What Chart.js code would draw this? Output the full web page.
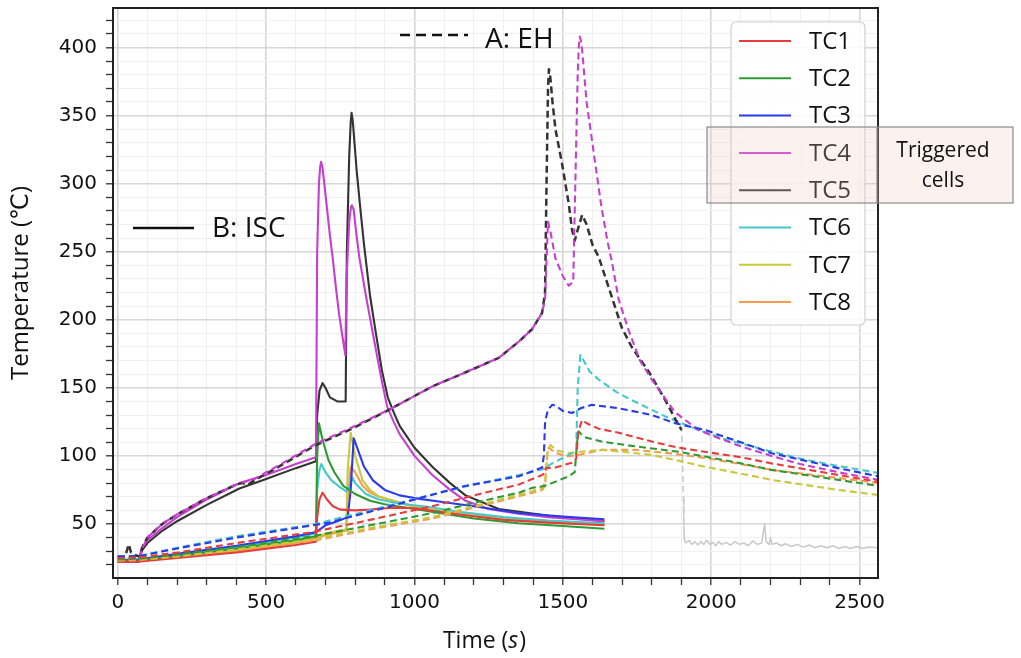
<!DOCTYPE html>
<html>
<head>
<meta charset="utf-8">
<script src="https://cdn.jsdelivr.net/npm/chart.js@4.4.1/dist/chart.umd.min.js"></script>
<style>
  html, body { margin: 0; padding: 0; background: #fff; }
  canvas { display: block; }
</style>
</head>
<body>
<canvas id="tempChart" width="1021" height="658"></canvas>
<script>
// ---- data (time in s, temperature in degC) ----
const TC_NAMES = ['TC1', 'TC2', 'TC3', 'TC4', 'TC5', 'TC6', 'TC7', 'TC8'];
const TC_COLORS = ['#e63c3c', '#2f9a33', '#2b3bea', '#c63fcf', '#333333', '#45c8cc', '#c8c83c', '#f49b4c'];

const X_MAJOR = [0, 500, 1000, 1500, 2000, 2500];
const Y_MAJOR = [50, 100, 150, 200, 250, 300, 350, 400];

// B: ISC (solid lines)
const isc_TC1 = [[0,22],[75,22.5],[200,25],[400,29],[600,34.5],[668,37],[672,55],[680,68],[690,73],[705,68],[725,63],[750,60.5],[800,60],[850,60.5],[900,61.5],[950,62],[1000,61.5],[1050,60],[1150,57],[1300,53],[1450,51],[1640,49]];
const isc_TC2 = [[0,23],[75,23.5],[200,26.5],[400,32],[600,38],[668,41],[672,100],[678,124],[690,112],[710,97],[730,88],[760,78],[800,72],[850,67],[900,64.5],[1000,61],[1100,57.5],[1200,54],[1350,50.5],[1500,48.5],[1640,46.5]];
const isc_TC3 = [[0,23.5],[75,24],[200,28],[400,34],[600,41],[668,44],[700,49],[740,52],[775,55],[785,75],[795,113],[810,104],[830,92],[860,82],[900,75],[950,71],[1000,69],[1100,66],[1200,63],[1350,58],[1500,55.5],[1640,53.5]];
const isc_TC4 = [[0,22],[70,22],[80,32],[100,38],[150,47],[200,55],[300,68],[410,80],[500,86],[600,94],[668,99],[672,250],[678,300],[682,312],[685,316],[690,312],[695,302],[705,282],[715,262],[724,246],[735,224],[746,204],[757,188],[767,174],[771,230],[780,272],[786,283],[789,284],[795,281],[803,265],[814,246],[836,218],[853,198],[870,178],[890,155],[908,136],[930,125],[950,116],[1000,100],[1060,86],[1120,75],[1172,67],[1250,61],[1350,57.5],[1450,55],[1640,52]];
const isc_TC5 = [[0,22],[70,22],[80,30],[100,36],[150,45],[200,52],[300,64],[410,76],[500,83],[600,91],[668,96],[672,130],[680,148],[690,153.5],[700,150],[715,143],[740,140],[768,140],[772,250],[780,320],[785,345],[788,352],[792,346],[796,335],[805,310],[816,285],[830,255],[850,218],[870,190],[890,163],[910,143],[930,132],[950,122],[1000,106],[1060,92],[1120,80],[1172,71],[1284,61],[1385,58],[1453,56],[1640,52]];
const isc_TC6 = [[0,23],[75,23.5],[200,27],[400,33],[600,40],[668,43],[672,75],[680,90],[686,94],[700,88],[720,82],[746,77.5],[770,74],[785,79],[791,84],[800,80],[836,72],[880,68],[948,65],[1049,62.5],[1150,59],[1300,55],[1450,52.5],[1640,50.5]];
const isc_TC7 = [[0,23],[75,23.5],[200,26],[400,31],[600,37],[668,40],[700,43],[770,46],[775,90],[785,117],[800,100],[825,82],[850,75],[881,70],[993,63],[1100,59],[1250,55],[1450,52],[1640,50]];
const isc_TC8 = [[0,22.5],[75,23],[200,25.5],[400,30],[600,36],[668,39],[700,42],[770,45],[775,70],[785,92],[800,88],[825,78],[850,73],[881,70],[993,63],[1100,59],[1250,55],[1450,51.5],[1640,49.5]];

// A: EH (dashed lines)
const eh_TC1 = [[0,25],[75,25.5],[200,29],[400,36],[657,44],[850,53],[1060,63],[1200,71],[1352,79],[1430,86],[1438,87],[1442,91],[1475,91.5],[1531,95],[1545,98],[1552,118],[1565,126.5],[1580,124],[1620,120],[1688,117],[1800,110.5],[1890,106],[1979,103],[2100,99],[2203,94.5],[2428,86],[2562,81]];
const eh_TC2 = [[0,24],[75,24.5],[200,27.5],[400,33],[657,41],[850,49],[1060,58],[1200,65.5],[1352,73],[1396,76.5],[1440,78],[1520,85],[1540,88],[1548,110],[1553,118],[1570,114],[1631,110.5],[1744,107],[1890,103],[1979,99.5],[2100,94.5],[2203,89.7],[2428,82.4],[2562,78]];
const eh_TC3 = [[0,26],[75,26.5],[200,32],[400,40],[657,49],[713,51],[850,59],[993,67.5],[1161,77.5],[1352,85],[1430,91.5],[1436,100],[1440,125],[1450,134],[1464,137.5],[1475,137],[1500,133],[1531,131.5],[1560,135],[1598,137.5],[1688,135],[1800,130],[1878,124],[1979,119],[2100,110],[2203,102],[2428,91],[2562,85]];
const eh_TC4 = [[0,25],[75,25],[85,33],[100,40],[150,50],[200,57],[300,69],[400,79],[460,83],[550,94],[668,109],[790,121],[915,134],[1060,151],[1200,164],[1284,172],[1352,184],[1396,193],[1430,205],[1440,215],[1446,250],[1450,272],[1458,265],[1475,245],[1500,232],[1520,225],[1535,228],[1542,300],[1550,380],[1554,402],[1557,408],[1561,405],[1565,398],[1580,360],[1609,315],[1630,283],[1650,258],[1665,243],[1688,215],[1722,192],[1760,170],[1800,156],[1878,132],[1957,119],[2013,114],[2100,107],[2203,100],[2300,94],[2428,88],[2562,82.5]];
const eh_TC5 = [[0,26],[25,26],[37,35],[45,29],[60,27],[75,26],[85,34],[100,40],[150,50],[200,57],[300,69],[400,79],[420,80],[440,79],[460,82],[550,93],[668,108],[790,120],[915,134],[1060,151],[1200,164],[1284,172],[1352,184],[1396,193],[1430,205],[1440,220],[1445,300],[1450,370],[1453,384],[1457,380],[1465,360],[1475,340],[1497,315],[1520,285],[1531,266],[1540,258],[1550,266],[1565,277],[1580,270],[1600,255],[1621,246],[1654,224],[1699,194],[1732,180],[1789,162],[1845,141],[1884,125],[1900,119]];
const eh_TC6 = [[0,26],[75,26.5],[200,32.5],[400,41],[657,49.5],[850,60],[1049,71],[1200,79],[1352,86],[1430,90],[1464,94.5],[1531,102],[1545,105],[1550,150],[1559,174],[1570,170],[1590,162],[1621,156],[1680,147],[1732,141],[1845,129],[1957,119],[2050,112],[2181,104.5],[2300,98],[2405,93.5],[2562,87.5]];
const eh_TC7 = [[0,23.5],[75,24],[200,26.5],[400,31.5],[657,38.5],[850,47],[1060,55],[1200,63],[1396,74],[1430,77],[1440,80],[1448,102],[1458,108],[1480,104],[1520,102],[1560,103],[1631,104.4],[1700,103],[1800,100.7],[1878,97],[1979,92],[2100,87],[2203,82.4],[2428,75],[2562,71.3]];
const eh_TC8 = [[0,23],[75,23.5],[200,26],[400,31],[657,37.5],[850,46],[1060,54],[1200,62],[1396,72.8],[1430,75],[1440,78],[1447,100],[1453,106],[1470,103],[1509,99.5],[1560,101],[1631,104.4],[1744,104.4],[1856,102],[1979,98.5],[2100,94],[2203,89.7],[2428,83.8],[2562,80]];

// TC5 (EH) reading after the thermocouple dropped off
const eh_TC5_tail = [[1900,122],[1903,100],[1906,70],[1908,45],[1910,38],[1915,36],[1925,38],[1935,35],[1945,37],[1955,34.5],[1965,37],[1975,35],[1985,38],[1995,35],[2005,36.5],[2015,34],[2025,37],[2035,35],[2050,36.5],[2065,34.5],[2080,37],[2095,35],[2110,36],[2125,34],[2140,37.5],[2155,35],[2170,36],[2180,50],[2185,37],[2195,35],[2200,40],[2205,35],[2220,36],[2235,34],[2250,35.5],[2270,33.5],[2290,35],[2310,33],[2330,34.5],[2350,32.5],[2370,34],[2390,32.5],[2410,34],[2430,32],[2450,33.5],[2470,32],[2490,33.5],[2510,32],[2530,33],[2562,32.5]];

const iscSeries = [isc_TC1, isc_TC2, isc_TC3, isc_TC4, isc_TC5, isc_TC6, isc_TC7, isc_TC8];
const ehSeries = [eh_TC1, eh_TC2, eh_TC3, eh_TC4, eh_TC5, eh_TC6, eh_TC7, eh_TC8];

const toXY = arr => arr.map(p => ({ x: p[0], y: p[1] }));

const datasets = [];
ehSeries.forEach((s, i) => {
  datasets.push({
    label: TC_NAMES[i] + ' EH',
    data: toXY(s),
    borderColor: TC_COLORS[i],
    borderWidth: i === 4 ? 2.5 : 2.1,
    borderDash: [7, 4],
  });
});
datasets.push({
  label: 'TC5 EH tail',
  data: toXY(eh_TC5_tail),
  borderColor: '#c8c8c8',
  borderWidth: 1.5,
  segment: { borderDash: c => (c.p0.parsed.x < 1908 ? [6, 4] : undefined) },
});
iscSeries.forEach((s, i) => {
  datasets.push({
    label: TC_NAMES[i] + ' ISC',
    data: toXY(s),
    borderColor: TC_COLORS[i],
    borderWidth: 2.1,
  });
});

const FONT_TEXT = "'Open Sans', 'DejaVu Sans', sans-serif";
const FONT_TICK = "'DejaVu Sans', sans-serif";

const xTicks = [];
for (let v = 0; v <= 2500; v += 100) xTicks.push(v);
const yTicks = [];
for (let v = 20; v <= 420; v += 10) yTicks.push(v);

const overlay = {
  id: 'overlay',
  afterDraw(chart) {
    const ctx = chart.ctx;
    const a = chart.chartArea;
    ctx.save();

    // legend
    ctx.beginPath();
    ctx.roundRect(731, 22, 134, 303, 5);
    ctx.fillStyle = 'rgba(255,255,255,0.85)';
    ctx.fill();
    ctx.strokeStyle = '#d0d0d0';
    ctx.lineWidth = 1.2;
    ctx.stroke();
    ctx.font = '24px ' + FONT_TEXT;
    ctx.textBaseline = 'middle';
    ctx.textAlign = 'left';
    TC_NAMES.forEach((name, i) => {
      const y = 41 + i * 37.3;
      ctx.strokeStyle = TC_COLORS[i];
      ctx.lineWidth = 2;
      ctx.beginPath();
      ctx.moveTo(739, y);
      ctx.lineTo(791, y);
      ctx.stroke();
      ctx.fillStyle = '#111';
      ctx.fillText(name, 809, y + 1);
    });

    // plot frame
    ctx.strokeStyle = '#222';
    ctx.lineWidth = 2;
    ctx.strokeRect(a.left, a.top, a.right - a.left, a.bottom - a.top);

    // triggered cells box
    ctx.fillStyle = 'rgba(240,200,190,0.25)';
    ctx.fillRect(707, 127, 306, 76);
    ctx.strokeStyle = '#8a8a8a';
    ctx.lineWidth = 1.2;
    ctx.strokeRect(707, 127, 306, 76);
    ctx.beginPath();
    ctx.moveTo(877, 127);
    ctx.lineTo(877, 203);
    ctx.stroke();
    ctx.fillStyle = '#111';
    ctx.font = '21px ' + FONT_TEXT;
    ctx.textAlign = 'center';
    ctx.fillText('Triggered', 943, 151);
    ctx.fillText('cells', 943, 181);

    // A / B annotations
    ctx.strokeStyle = '#111';
    ctx.lineWidth = 2.4;
    ctx.setLineDash([10, 6]);
    ctx.beginPath();
    ctx.moveTo(400, 35);
    ctx.lineTo(468, 35);
    ctx.stroke();
    ctx.setLineDash([]);
    ctx.beginPath();
    ctx.moveTo(133, 228);
    ctx.lineTo(194, 228);
    ctx.stroke();
    ctx.font = '28px ' + FONT_TEXT;
    ctx.textAlign = 'left';
    ctx.fillText('A: EH', 485, 40);
    ctx.fillText('B: ISC', 212, 229);

    // axis titles
    ctx.font = '24px ' + FONT_TEXT;
    ctx.save();
    ctx.translate(21, 283);
    ctx.rotate(-Math.PI / 2);
    ctx.textAlign = 'center';
    ctx.fillText('Temperature (\u2103)', 0, 0);
    ctx.restore();

    ctx.textAlign = 'left';
    const t1 = 'Time (';
    ctx.font = '23px ' + FONT_TEXT;
    const w1 = ctx.measureText(t1).width;
    ctx.font = 'italic 23px ' + FONT_TEXT;
    const w2 = ctx.measureText('s').width;
    ctx.font = '23px ' + FONT_TEXT;
    const w3 = ctx.measureText(')').width;
    const x0 = 484 - (w1 + w2 + w3) / 2;
    const yT = 641;
    ctx.fillText(t1, x0, yT);
    ctx.font = 'italic 23px ' + FONT_TEXT;
    ctx.fillText('s', x0 + w1, yT);
    ctx.font = '23px ' + FONT_TEXT;
    ctx.fillText(')', x0 + w1 + w2 + 1, yT);

    ctx.restore();
  },
};

const gridColor = majors => c => (c.tick && majors.includes(c.tick.value) ? '#d6d6d6' : '#f0f0f0');
const gridWidth = majors => c => (c.tick && majors.includes(c.tick.value) ? 1.6 : 1);

new Chart(document.getElementById('tempChart'), {
  type: 'line',
  data: { datasets },
  options: {
    responsive: false,
    animation: false,
    events: [],
    layout: { padding: { left: 0, right: 143, top: 8, bottom: 0 } },
    elements: {
      point: { radius: 0 },
      line: { tension: 0, fill: false, borderCapStyle: 'butt', borderJoinStyle: 'round' },
    },
    plugins: { legend: { display: false }, tooltip: { enabled: false } },
    scales: {
      x: {
        type: 'linear',
        min: -16,
        max: 2562,
        bounds: 'data',
        afterBuildTicks: s => { s.ticks = xTicks.map(v => ({ value: v })); },
        afterFit: s => { s.height = 80; s.paddingLeft = 0; s.paddingRight = 0; },
        ticks: {
          autoSkip: false,
          maxRotation: 0,
          padding: 6,
          color: '#111',
          font: { family: FONT_TICK, size: 20 },
          callback: v => (X_MAJOR.includes(v) ? String(v) : ''),
        },
        grid: {
          color: gridColor(X_MAJOR),
          lineWidth: gridWidth(X_MAJOR),
          tickColor: '#333',
          tickLength: 7,
          tickWidth: 1.3,
        },
        border: { display: false },
      },
      y: {
        type: 'linear',
        min: 10.3,
        max: 429,
        bounds: 'data',
        afterBuildTicks: s => { s.ticks = yTicks.map(v => ({ value: v })); },
        afterFit: s => { s.width = 113; s.paddingTop = 0; s.paddingBottom = 0; },
        ticks: {
          autoSkip: false,
          padding: 9,
          color: '#111',
          font: { family: FONT_TICK, size: 20 },
          callback: v => (Y_MAJOR.includes(v) ? String(v) : ''),
        },
        grid: {
          color: gridColor(Y_MAJOR),
          lineWidth: gridWidth(Y_MAJOR),
          tickColor: '#333',
          tickLength: 7,
          tickWidth: 1.3,
        },
        border: { display: false },
      },
    },
  },
  plugins: [overlay],
});
</script>
</body>
</html>
